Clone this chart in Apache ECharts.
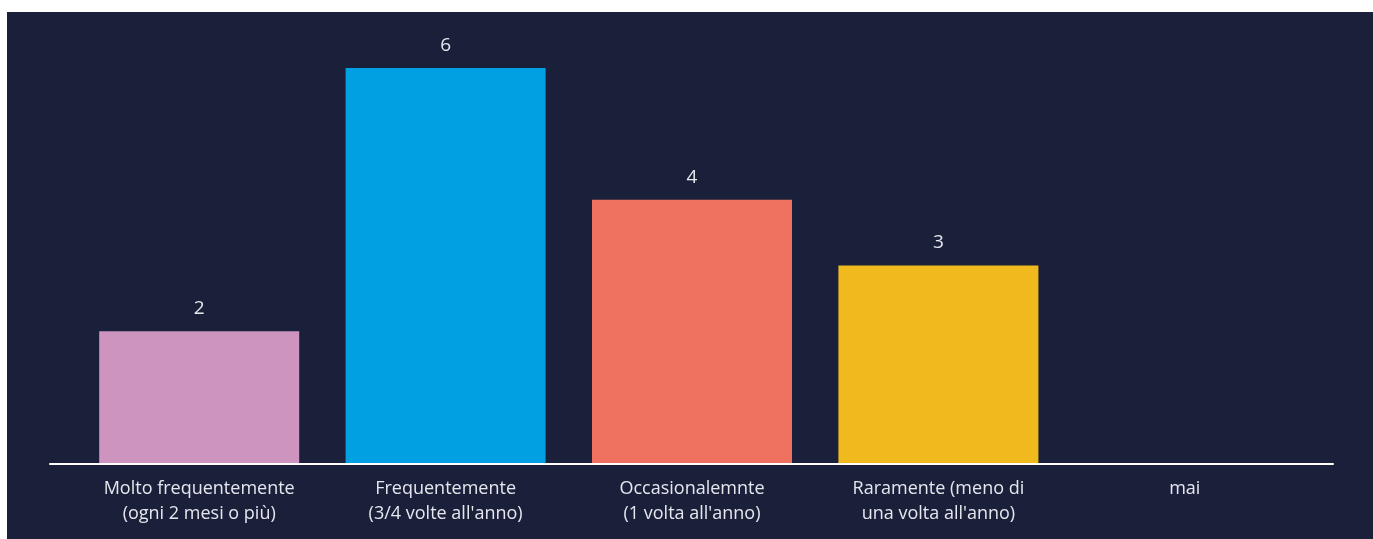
<!DOCTYPE html>
<html>
<head>
<meta charset="utf-8">
<script src="https://cdn.jsdelivr.net/npm/echarts@6/dist/echarts.min.js"></script>
<style>
  html, body { margin: 0; padding: 0; background: #ffffff; }
  #chart { position: absolute; left: 7px; top: 12px; width: 1366px; height: 527px; }
</style>
</head>
<body>
<div id="chart"></div>
<script>
// Frequency categories (two-line labels)
const categories = [
  'Molto frequentemente\n(ogni 2 mesi o più)',
  'Frequentemente\n(3/4 volte all\'anno)',
  'Occasionalemnte\n(1 volta all\'anno)',
  'Raramente (meno di\nuna volta all\'anno)',
  'mai'
];
// Number of answers per category
const counts = [2, 6, 4, 3, 0];
const barColors = ['#cc94bf', '#00a0e3', '#ef7260', '#f0b91e', '#8a8fa3'];

const FONT = '"Open Sans", sans-serif';
const TEXT = '#e6e7ee';

const chart = echarts.init(document.getElementById('chart'), null, { renderer: 'canvas' });

chart.setOption({
  backgroundColor: '#1a203a',
  animation: false,
  grid: [
    { left: 69, right: 65, top: 56, bottom: 76 },
    { left: 43, right: 40, top: 56, bottom: 75 }
  ],
  xAxis: [
    {
      type: 'category',
      gridIndex: 0,
      data: categories,
      axisLine: { show: false },
      axisTick: { show: false },
      axisLabel: {
        interval: 0,
        margin: 13,
        color: TEXT,
        fontFamily: FONT,
        fontSize: 18,
        lineHeight: 25
      }
    },
    {
      // baseline running slightly past the bar area
      type: 'value',
      gridIndex: 1,
      min: 0,
      max: 1,
      z: 5,
      axisLine: { show: true, lineStyle: { color: '#ffffff', width: 2 } },
      axisTick: { show: false },
      axisLabel: { show: false },
      splitLine: { show: false }
    }
  ],
  yAxis: [
    { type: 'value', gridIndex: 0, min: 0, max: 6, show: false },
    { type: 'value', gridIndex: 1, min: 0, max: 1, show: false }
  ],
  series: [{
    type: 'bar',
    xAxisIndex: 0,
    yAxisIndex: 0,
    barWidth: 200,
    data: counts.map((v, i) => ({ value: v, itemStyle: { color: barColors[i] } })),
    label: {
      show: true,
      position: 'top',
      distance: 13,
      color: TEXT,
      fontFamily: FONT,
      fontSize: 19,
      formatter: p => (p.value > 0 ? p.value : '')
    }
  }]
});
</script>
</body>
</html>
